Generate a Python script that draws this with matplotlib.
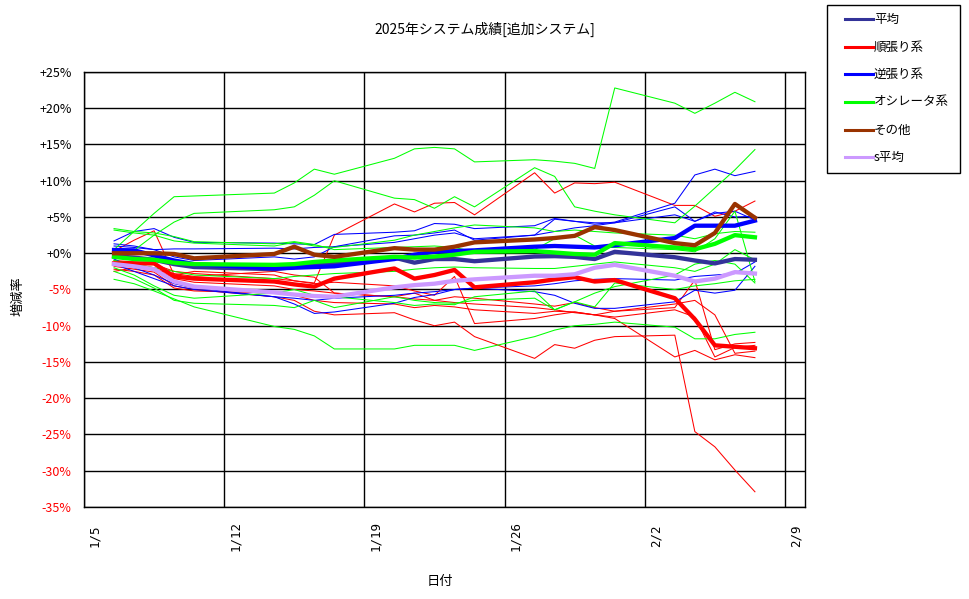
import matplotlib
matplotlib.use("Agg")
import matplotlib.pyplot as plt
from matplotlib.lines import Line2D
from matplotlib.patches import Rectangle
import pandas as pd

plt.rcParams['font.family'] = ['Noto Sans CJK JP', 'DejaVu Sans']

dates = ["2025-01-06", "2025-01-07", "2025-01-08", "2025-01-09", "2025-01-10",
         "2025-01-14", "2025-01-15", "2025-01-16", "2025-01-17",
         "2025-01-20", "2025-01-21", "2025-01-22", "2025-01-23", "2025-01-24",
         "2025-01-27", "2025-01-28", "2025-01-29", "2025-01-30", "2025-01-31",
         "2025-02-03", "2025-02-04", "2025-02-05", "2025-02-06", "2025-02-07"]

# individual systems (thin lines)
trend_systems = [
    [0.3, 1.8, 3.1, -3.0, -2.5, -3.0, -3.8, -4.1, 2.5, 6.8, 5.7, 6.9, 7.0, 5.3, 11.1, 8.3, 9.7, 9.6, 9.8, 6.6, 6.6, 5.1, 5.8, 7.2],
    [-1.8, -2.2, -2.6, -4.5, -5.0, -6.0, -6.5, -8.0, -8.5, -8.2, -9.2, -10.0, -9.5, -11.5, -14.5, -12.6, -13.1, -12.0, -11.5, -11.3, -24.6, -26.7, -29.9, -32.9],
    [-2.2, -2.5, -3.0, -4.8, -5.2, -5.5, -5.8, -6.5, -6.8, -7.0, -7.5, -7.2, -7.4, -7.8, -8.3, -8.0, -8.1, -8.5, -8.8, -7.8, -8.8, -14.3, -13.0, -12.7],
    [-1.2, -1.5, -2.0, -3.5, -4.0, -4.5, -5.0, -5.2, -5.5, -6.0, -6.3, -6.5, -6.8, -7.0, -7.5, -7.8, -8.2, -8.5, -9.0, -14.3, -13.4, -14.7, -14.0, -14.4],
    [-1.0, -1.2, -1.5, -2.5, -2.8, -3.5, -3.8, -4.2, -4.0, -4.5, -5.2, -5.8, -3.2, -9.7, -9.0, -8.5, -8.1, -8.5, -8.0, -7.5, -3.7, -13.3, -12.5, -12.3],
    [-2.5, -2.0, -2.3, -2.8, -3.2, -2.5, -3.0, -3.3, -5.5, -6.0, -5.5, -6.5, -6.0, -6.2, -7.0, -7.3, -6.8, -7.5, -8.0, -7.0, -6.5, -8.5, -13.8, -13.5],
]
contra_systems = [
    [1.7, 3.0, 3.4, 2.2, 1.5, 1.4, 1.3, 1.2, 2.6, 2.9, 3.1, 4.1, 4.0, 3.4, 3.8, 4.8, 4.4, 4.0, 4.3, 6.9, 10.8, 11.6, 10.7, 11.3],
    [1.0, 0.8, 0.5, 0.6, 0.6, 0.7, 0.6, 0.8, 0.9, 2.4, 2.5, 2.8, 3.2, 1.8, 2.5, 4.7, 4.4, 4.2, 4.2, 5.3, 4.4, 5.7, 5.0, 5.1],
    [-1.5, -2.5, -3.5, -4.5, -5.0, -6.0, -7.0, -8.3, -8.1, -6.9, -6.1, -5.7, -5.0, -4.8, -5.3, -5.8, -6.9, -7.6, -7.6, -6.7, -5.1, -5.5, -5.1, -1.8],
    [1.3, 1.0, 0.5, -0.5, -1.0, -0.5, -0.8, -0.5, 0.9, 1.5, 2.0, 2.5, 2.8, 2.0, 2.5, 3.0, 3.5, 3.8, 4.2, 6.4, 4.4, 5.5, 5.8, 4.6],
    [-0.8, -2.0, -3.0, -4.2, -4.8, -6.0, -6.2, -6.5, -6.2, -5.8, -5.5, -5.3, -5.0, -4.8, -4.5, -4.2, -3.8, -3.6, -3.5, -3.7, -3.2, -3.0, -2.8, -1.2],
]
osc_systems = [
    [0.5, 3.0, 5.5, 7.8, 7.9, 8.3, 9.7, 11.6, 10.9, 13.1, 14.4, 14.6, 14.4, 12.6, 12.9, 12.7, 12.4, 11.7, 22.8, 20.7, 19.3, 20.7, 22.2, 20.9],
    [0.0, 0.4, 2.5, 4.3, 5.5, 6.0, 6.4, 8.0, 10.0, 7.6, 7.4, 6.2, 7.8, 6.4, 11.8, 10.6, 6.4, 5.8, 5.3, 4.2, 6.5, 9.0, 11.5, 14.3],
    [-3.6, -4.2, -5.2, -6.3, -7.4, -10.1, -10.5, -11.4, -13.2, -13.2, -12.7, -12.7, -12.7, -13.4, -11.5, -10.6, -10.0, -9.8, -9.5, -10.2, -11.8, -11.8, -11.2, -10.9],
    [-2.5, -3.5, -4.8, -6.5, -6.9, -7.2, -7.5, -6.5, -7.5, -6.0, -6.5, -6.8, -6.9, -6.5, -6.2, -7.8, -6.7, -5.5, -4.6, -3.0, -1.5, -1.0, -1.5, -4.1],
    [3.2, 2.8, 2.5, 1.7, 1.4, 1.0, 1.5, 1.0, 0.8, 1.8, 2.5, 3.0, 3.5, 3.9, 3.5, 3.0, 3.2, 3.0, 2.8, 2.5, 2.0, 2.7, 3.0, 2.9],
    [-1.0, -1.5, -2.0, -2.5, -3.0, -3.5, -3.2, -3.0, -2.8, -2.5, -2.2, -2.0, -1.9, -2.0, -2.1, -2.1, -1.8, -1.5, -1.2, -2.0, -2.5, -1.5, 0.5, -0.9],
    [-2.0, -3.0, -4.5, -5.8, -6.2, -5.5, -5.0, -5.8, -6.0, -6.8, -7.2, -7.0, -7.1, -6.0, -5.2, -7.8, -6.7, -7.4, -4.1, -5.0, -4.5, -4.2, -3.8, -3.6],
    [3.4, 3.0, 2.8, 2.3, 1.6, 1.3, 1.6, 1.2, 0.5, 0.8, 0.9, 1.0, 0.8, 0.2, 0.5, 2.0, 2.5, 1.0, 0.8, 0.5, 0.2, 2.0, 5.8, -3.9],
]

# group averages (thick lines)
avg_all = [-0.4, -0.6, -0.9, -1.5, -1.9, -2.2, -1.9, -1.6, -1.4, -0.6, -1.3, -0.8, -0.8, -1.1, -0.45, -0.4, -0.5, -0.8, 0.2, -0.55, -1.0, -1.4, -0.8, -0.9]
avg_trend = [-1.4, -1.4, -1.4, -3.2, -3.5, -3.9, -4.3, -4.6, -3.5, -2.1, -3.5, -3.0, -2.3, -4.7, -4.0, -3.6, -3.3, -3.9, -3.7, -6.2, -9.1, -12.7, -12.9, -13.1]
avg_contra = [0.45, 0.4, -0.3, -1.0, -1.5, -2.1, -2.0, -1.9, -1.8, -0.8, -0.2, 0.2, 0.3, 0.4, 0.9, 1.0, 0.9, 0.8, 1.1, 2.1, 3.8, 3.8, 3.8, 4.5]
avg_osc = [-0.5, -0.8, -0.9, -1.3, -1.5, -1.6, -1.5, -1.2, -1.0, -0.5, -0.6, -0.45, -0.2, 0.2, 0.3, 0.1, -0.1, -0.2, 1.4, 0.8, 0.55, 1.3, 2.5, 2.2]
avg_other = [0.0, 0.0, 0.0, -0.1, -0.7, -0.1, 0.9, -0.2, -0.5, 0.7, 0.5, 0.5, 0.9, 1.5, 1.9, 2.1, 2.4, 3.6, 3.2, 1.4, 1.1, 2.8, 6.8, 4.9]
avg_s = [-1.5, -1.8, -2.2, -3.9, -4.6, -5.4, -5.7, -5.9, -6.0, -4.7, -4.4, -4.2, -3.8, -3.6, -3.1, -3.1, -2.9, -2.0, -1.6, -3.1, -3.9, -3.5, -2.6, -2.8]

series_labels = ["平均", "順張り系", "逆張り系", "オシレータ系", "その他", "s平均"]
series_colors = ["#333399", "#FF0000", "#0000FF", "#00FF00", "#993300", "#CC99FF"]

tick_dates = ["2025-01-05", "2025-01-12", "2025-01-19", "2025-01-26", "2025-02-02", "2025-02-09"]
tick_labels = ["1/5", "1/12", "1/19", "1/26", "2/2", "2/9"]
y_ticks = [-35, -30, -25, -20, -15, -10, -5, 0, 5, 10, 15, 20, 25]

W, H = 970, 599
x = pd.to_datetime(dates) + pd.Timedelta(hours=12)

fig = plt.figure(figsize=(W / 100, H / 100), dpi=100)
ax = fig.add_axes([84 / W, 1 - 507 / H, (805 - 84) / W, (507 - 72) / H])

thin = 0.75
for s in trend_systems:
    ax.plot(x, s, color="#FF0000", lw=thin)
for s in contra_systems:
    ax.plot(x, s, color="#0000FF", lw=thin)
for s in osc_systems:
    ax.plot(x, s, color="#00FF00", lw=thin)

for vals, lab, col in zip([avg_all, avg_trend, avg_contra, avg_osc, avg_other, avg_s],
                          series_labels, series_colors):
    ax.plot(x, vals, color=col, lw=3.1, label=lab)

ax.set_xlim(pd.Timestamp("2025-01-05"), pd.Timestamp("2025-02-10"))
ax.set_ylim(-35, 25)
# major ticks carry the vertical grid lines, minor ticks (shifted half a day) carry the labels
ax.set_xticks(pd.to_datetime(tick_dates))
ax.set_xticklabels([""] * len(tick_dates))
ax.set_xticks(pd.to_datetime(tick_dates) + pd.Timedelta(hours=13), minor=True)
ax.set_xticklabels(tick_labels, minor=True, rotation=90, fontsize=9, va="center", ha="center",
                   family=["DejaVu Sans Mono"])
ax.set_yticks(y_ticks)
ax.set_yticklabels([("+%d%%" % v) if v >= 0 else ("-%d%%" % abs(v)) for v in y_ticks], fontsize=9)
for lab, v in zip(ax.get_yticklabels(), y_ticks):
    lab.set_color("#FF0000" if v < 0 else "black")
ax.tick_params(axis='y', length=0, pad=9)
ax.tick_params(axis='x', which='both', length=0, pad=21)
ax.grid(True, which='major', color="black", lw=1.0)
ax.set_axisbelow(True)
for sp in ax.spines.values():
    sp.set_color("black")
    sp.set_linewidth(1.0)

fig.text(18 / W, 1 - 296 / H, "増減率", fontsize=9.5, rotation=90, ha="center", va="center")
fig.text(440 / W, 1 - 582 / H, "日付", fontsize=9.5, ha="center", va="center")
fig.text(0.5, 1 - 29 / H, "2025年システム成績[追加システム]", fontsize=10, ha="center", va="center")

# legend box (outside the plot, at the right)
fig.add_artist(Rectangle((827 / W, 1 - 173 / H), (960 - 827) / W, (173 - 5) / H,
                         transform=fig.transFigure, facecolor="white", edgecolor="black", lw=1.0))
legend_y = [19, 47, 74, 102, 130, 157]
for yy, lab, col in zip(legend_y, series_labels, series_colors):
    fig.add_artist(Line2D([845 / W, 873 / W], [1 - yy / H, 1 - yy / H],
                          transform=fig.transFigure, color=col, lw=2.2))
    fig.text(874 / W, 1 - yy / H, lab, fontsize=9, ha="left", va="center")

fig.savefig("out.png", dpi=100)
